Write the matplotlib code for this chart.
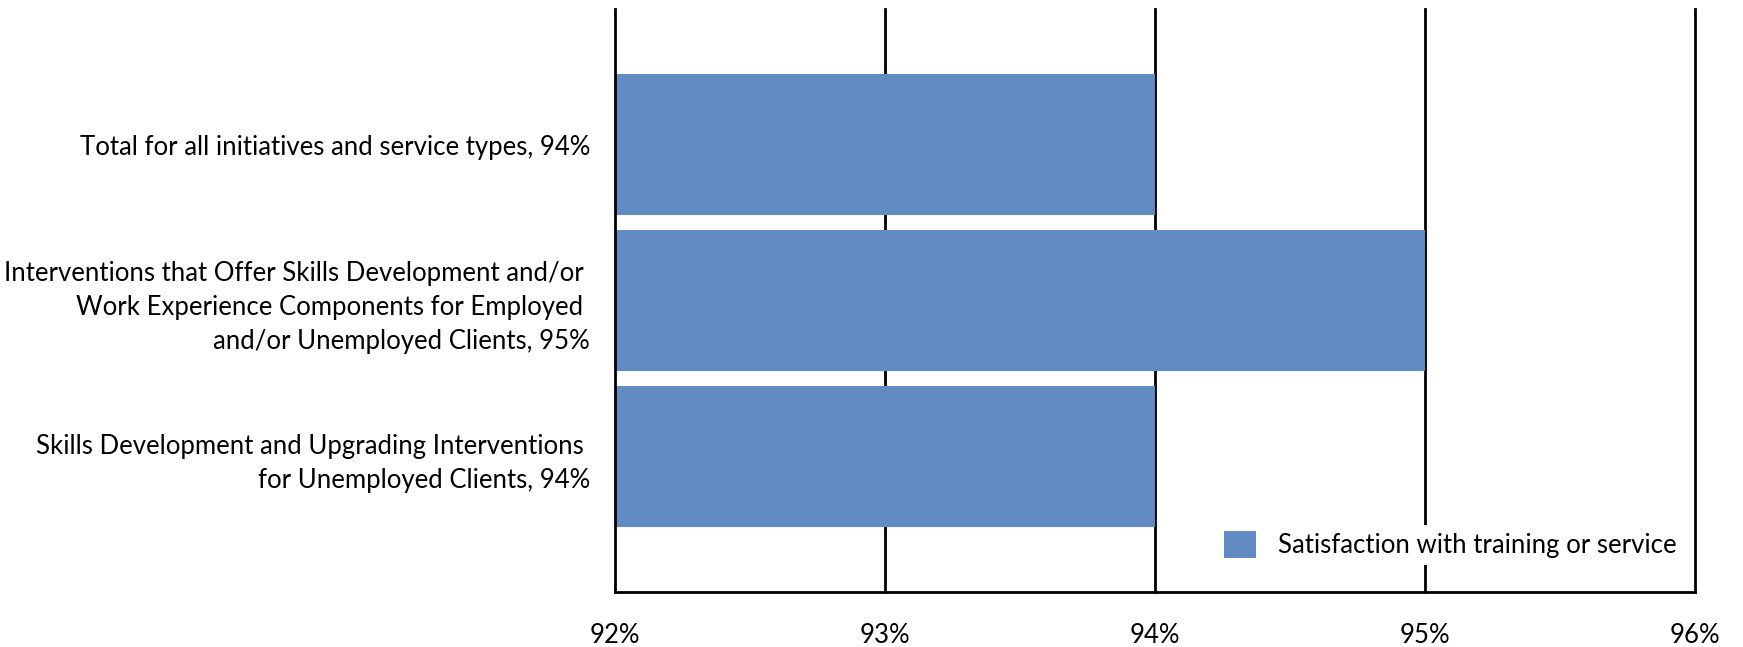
import matplotlib
matplotlib.use("Agg")
import matplotlib.pyplot as plt
from matplotlib.patches import Patch

categories = [
    "Total for all initiatives and service types, 94%",
    "Interventions that Offer Skills Development and/or \nWork Experience Components for Employed \nand/or Unemployed Clients, 95%",
    "Skills Development and Upgrading Interventions \nfor Unemployed Clients, 94%",
]
values = [94, 95, 94]
xticks = [92, 93, 94, 95, 96]
xtick_labels = ["92%", "93%", "94%", "95%", "96%"]
series_name = "Satisfaction with training or service"

bar_color = "#638BC3"
plt.rcParams['font.family'] = ['Lato', 'DejaVu Sans']
fs = 18.5

fig = plt.figure(figsize=(17.43, 6.47), dpi=100)
ax = fig.add_axes([615/1743, 55/647, 1080/1743, 583/647])

y = list(range(len(categories)))
ax.barh(y, [v - 92 for v in values], left=92, height=0.9, color=bar_color, zorder=3)
ax.set_ylim(2.87, -0.87)
ax.set_xlim(92, 96)
ax.set_xticks(xticks)
ax.set_xticklabels(xtick_labels, fontsize=fs)
ax.set_yticks(y)
ax.set_yticklabels(categories, fontsize=fs, multialignment='right', linespacing=1.45)
ax.tick_params(axis='both', length=0)
ax.tick_params(axis='y', pad=18)
ax.tick_params(axis='x', pad=22)
for x in xticks[1:]:
    ax.axvline(x, color='black', lw=2, zorder=1, clip_on=False)
for s in ['top', 'right']:
    ax.spines[s].set_visible(False)
ax.spines['left'].set_linewidth(2)
ax.spines['bottom'].set_linewidth(2)
ax.spines['left'].set_zorder(4)

leg = ax.legend(handles=[Patch(facecolor=bar_color, label=series_name)],
                loc='center', bbox_to_anchor=(0.773, 0.081), fontsize=fs,
                frameon=True, framealpha=1, facecolor='white', edgecolor='none',
                handlelength=1.25, handleheight=1.25, handletextpad=0.85,
                borderpad=0.25, borderaxespad=0)
leg.set_zorder(5)

fig.savefig("out.png", dpi=100)
